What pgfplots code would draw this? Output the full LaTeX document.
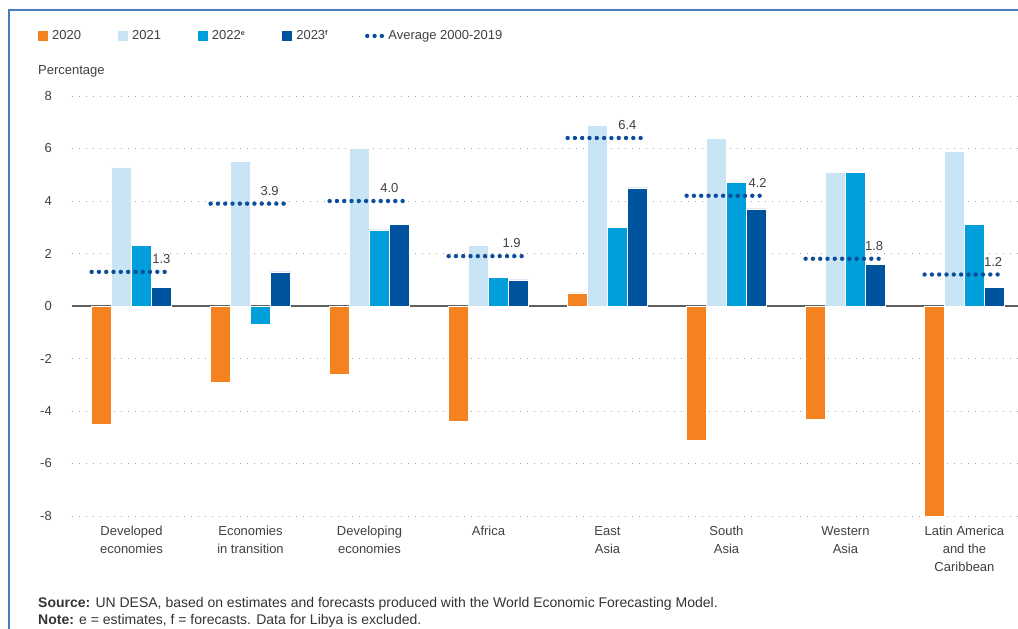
\documentclass[border=0pt]{standalone}
\usepackage{pgfplots}
\usepackage{pgfplotstable}
\pgfplotsset{compat=1.18}
\usepackage{fontspec}
\setmainfont{Liberation Sans}
\definecolor{cA}{HTML}{F58220}
\definecolor{cB}{HTML}{C9E4F5}
\definecolor{cC}{HTML}{009EDB}
\definecolor{cD}{HTML}{00539F}
\definecolor{cAvg}{HTML}{0B4F9C}
\definecolor{frameblue}{HTML}{4A7DC0}
\definecolor{txt}{HTML}{404040}
\newcommand{\fs}{\fontsize{13}{15}\selectfont}
\tikzset{avglbl/.style={anchor=center, yshift=13pt, text=txt, font=\fs}}
\pgfplotsset{
  barlegend/.style={legend image code/.code={\fill[##1, draw=none] (0pt,-5pt) rectangle (10pt,5pt);}},
  avglegend/.style={legend image code/.code={\draw[##1] (2pt,0pt) -- (17pt,0pt);}},
  bars/.style={ybar, bar width=20pt, draw=white, line width=0.4pt, barlegend},
  avg/.style={cAvg, line width=4.4pt, dash pattern=on 0pt off 7.3pt, line cap=round},
}
\pgfplotstableread{
x y20 y21 y22 y23
0 -4.5 5.3 2.3 0.7
1 -2.9 5.5 -0.7 1.3
2 -2.6 6.0 2.9 3.1
3 -4.4 2.3 1.1 1.0
4 0.5 6.9 3.0 4.5
5 -5.1 6.4 4.7 3.7
6 -4.3 5.1 5.1 1.6
7 -8.0 5.9 3.1 0.7
}\growth
\begin{document}
\begin{tikzpicture}
\path[use as bounding box] (0pt,0pt) rectangle (1018pt,-629pt);
\draw[frameblue, line width=2pt] (9pt,-629pt) -- (9pt,-10pt) -- (1018pt,-10pt);
\begin{axis}[
  at={(72pt,-96pt)}, anchor=north west,
  scale only axis, width=946pt, height=420pt,
  xmin=-0.5, xmax=7.45, ymin=-8, ymax=8,
  clip=false,
  axis line style={draw=none},
  major tick length=0pt,
  ytick={-8,-6,...,8},
  ymajorgrids,
  major grid style={draw=gray!70, line width=0.8pt, dash pattern=on 0.8pt off 6.2pt},
  extra y ticks={0}, extra y tick labels={},
  extra y tick style={grid=major, major grid style={draw=gray!75!black, solid, line width=1.1pt}},
  yticklabel style={anchor=east, inner sep=0pt, xshift=-20pt, text=txt, font=\fs},
  /pgf/number format/assume math mode=true,
  xtick={0,...,7},
  xticklabels={{Developed\\economies},{Economies\\in transition},{Developing\\economies},{Africa},{East\\Asia},{South\\Asia},{Western\\Asia},{Latin America\\and the\\Caribbean}},
  xticklabel style={align=center, anchor=north, inner sep=0pt, yshift=-10pt, text=txt, font=\fontsize{13}{18}\selectfont},
  legend columns=-1,
  legend style={at={(-0.036,1.143)}, anchor=west, draw=none, fill=none, inner sep=0pt,
    font=\fs, text=txt, nodes={inner xsep=4pt},
    /tikz/every even column/.append style={column sep=33pt}},
]
\addplot[bars, fill=cA, bar shift=-30pt] table[x=x, y=y20] {\growth};
\addlegendentry{2020}
\addplot[bars, fill=cB, bar shift=-10pt] table[x=x, y=y21] {\growth};
\addlegendentry{2021}
\addplot[bars, fill=cC, bar shift=10pt] table[x=x, y=y22] {\growth};
\addlegendentry{2022\textsuperscript{\textbf{\scriptsize e}}}
\addplot[bars, fill=cD, bar shift=30pt] table[x=x, y=y23] {\growth};
\addlegendentry{2023\textsuperscript{\textbf{\scriptsize f}}}
\addplot[avg, forget plot] coordinates {(-0.335,1.3) (0.335,1.3)} node[pos=0.875, avglbl] {1.3};
\addplot[avg, forget plot] coordinates {(0.665,3.9) (1.335,3.9)} node[pos=0.74, avglbl] {3.9};
\addplot[avg, forget plot] coordinates {(1.665,4.0) (2.335,4.0)} node[pos=0.75, avglbl] {4.0};
\addplot[avg, forget plot] coordinates {(2.665,1.9) (3.335,1.9)} node[pos=0.79, avglbl] {1.9};
\addplot[avg, forget plot] coordinates {(3.665,6.4) (4.335,6.4)} node[pos=0.75, avglbl] {6.4};
\addplot[avg, forget plot] coordinates {(4.665,4.2) (5.335,4.2)} node[pos=0.89, avglbl] {4.2};
\addplot[avg, forget plot] coordinates {(5.665,1.8) (6.335,1.8)} node[pos=0.86, avglbl] {1.8};
\addplot[avg, forget plot] coordinates {(6.665,1.2) (7.335,1.2)} node[pos=0.86, avglbl] {1.2};
\addlegendimage{avg, avglegend}
\addlegendentry{Average 2000-2019}
\node[anchor=west, inner sep=0pt, text=txt, font=\fs] at (rel axis cs:-0.036,1.059) {Percentage};
\end{axis}
\node[anchor=west, inner sep=0pt, text=black!80, font=\fontsize{14}{16}\selectfont] at (38pt,-604pt) {\textbf{Source:} UN DESA, based on estimates and forecasts produced with the World Economic Forecasting Model.};
\node[anchor=west, inner sep=0pt, text=black!80, font=\fontsize{14}{16}\selectfont] at (38pt,-621pt) {\textbf{Note:} e = estimates, f = forecasts. Data for Libya is excluded.};
\end{tikzpicture}
\end{document}
